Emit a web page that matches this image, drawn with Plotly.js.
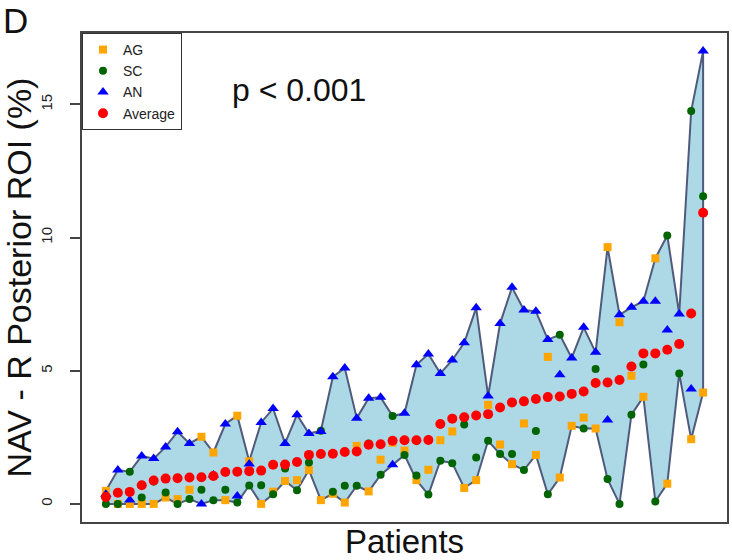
<!DOCTYPE html>
<html>
<head>
<meta charset="utf-8">
<script src="https://cdn.plot.ly/plotly-3.0.1.min.js"></script>
<style>
  html, body { margin: 0; padding: 0; background: #fff; }
  #chart { width: 732px; height: 560px; }
</style>
</head>
<body>
<div id="chart"></div>
<script>
// Patients sorted by average value (values in %)
const patients = Array.from({length: 51}, (_, i) => i + 1);

const AG = [0.49, 0.0, 0.0, 0.0, 0.0, 0.24, 0.18, 0.53, 2.52, 1.93,
            0.14, 3.31, 1.6, 0.0, 0.46, 0.86, 0.89, 1.27, 0.14, 0.38,
            0.05, 2.18, 0.47, 1.66, 2.3, 2.0, 0.89, 1.28, 2.39, 2.72,
            0.6, 0.89, 3.72, 2.23, 1.49, 3.02, 1.84, 5.52, 0.99, 2.93,
            3.24, 2.83, 9.64, 6.82, 4.81, 4.02, 9.22, 0.76, 6.0, 2.43,
            4.18];

const SC = [0.0, 0.0, 1.21, 0.24, 0.84, 0.43, 0.0, 0.18, 0.53, 0.14,
            0.53, 0.05, 0.69, 0.70, 0.36, 1.33, 0.51, 1.55, 2.75, 0.46,
            0.68, 0.68, 2.27, 1.09, 3.3, 1.84, 1.07, 0.35, 1.62, 1.53,
            2.98, 1.74, 2.37, 1.87, 1.87, 1.27, 2.74, 0.36, 6.35, 4.15,
            2.83, 5.06, 0.93, 0.0, 3.35, 5.23, 0.09, 10.08, 4.9, 14.75,
            11.55];

const AN = [0.36, 1.27, 0.15, 1.80, 1.70, 2.14, 2.71, 2.27, 0.0, 1.08,
            3.0, 0.30, 1.5, 3.06, 3.58, 2.27, 3.35, 2.64, 2.72, 4.77,
            5.10, 3.22, 3.97, 4.0, 1.47, 3.40, 5.22, 5.63, 4.90, 5.40,
            6.05, 7.36, 4.05, 6.77, 8.13, 7.28, 7.23, 6.17, 4.85, 5.48,
            6.63, 5.69, 3.15, 7.1, 7.38, 7.61, 7.61, 6.53, 7.13, 4.31,
            17.0];

const AVG = [0.26, 0.42, 0.45, 0.70, 0.88, 0.95, 0.96, 0.99, 1.0, 1.05,
             1.2, 1.21, 1.23, 1.25, 1.47, 1.48, 1.57, 1.84, 1.87, 1.88,
             1.95, 1.97, 2.22, 2.24, 2.37, 2.39, 2.39, 2.40, 3.0, 3.2,
             3.25, 3.32, 3.37, 3.62, 3.81, 3.85, 3.94, 4.01, 4.03, 4.13,
             4.22, 4.54, 4.56, 4.65, 5.16, 5.65, 5.65, 5.79, 6.0, 7.15,
             10.93];

const FONT = 'Liberation Sans, Arial, sans-serif';

// Band between highest and lowest of the three measurements
const upper = patients.map((p, i) => Math.max(AG[i], SC[i], AN[i]));
const lower = patients.map((p, i) => Math.min(AG[i], SC[i], AN[i]));
const bandX = patients.concat(patients.slice().reverse(), [patients[0]]);
const bandY = upper.concat(lower.slice().reverse(), [upper[0]]);

const band = {
  x: bandX, y: bandY,
  type: 'scatter', mode: 'lines',
  fill: 'toself', fillcolor: '#ADD8E6',
  line: { color: '#4f5a7c', width: 2 },
  hoverinfo: 'skip', showlegend: false
};

function pts(name, y, symbol, color, size) {
  return {
    x: patients, y: y, name: name,
    type: 'scatter', mode: 'markers',
    marker: { symbol: symbol, color: color, size: size, line: { width: 0 } }
  };
}

const traces = [
  band,
  pts('AG', AG, 'square', '#FFA500', 8),
  pts('SC', SC, 'circle', '#006400', 8),
  pts('AN', AN, 'triangle-up', '#0000FF', 10),
  pts('Average', AVG, 'circle', '#FF0000', 10)
];

const layout = {
  width: 732, height: 560,
  margin: { l: 82, r: 5, t: 33, b: 38 },
  paper_bgcolor: '#fff', plot_bgcolor: '#fff',
  font: { family: FONT, color: '#111' },
  showlegend: true,
  legend: {
    x: 0, y: 1, xanchor: 'left', yanchor: 'top',
    bgcolor: '#fff', bordercolor: '#333', borderwidth: 1,
    font: { size: 14, family: FONT, color: '#222' },
    itemwidth: 30, tracegroupgap: 0
  },
  xaxis: {
    range: [-1, 53], showgrid: false, zeroline: false,
    showticklabels: false, ticks: '',
    showline: true, mirror: true, linecolor: '#444', linewidth: 2,
    title: { text: 'Patients', font: { size: 33, family: FONT, color: '#111' }, standoff: 10 }
  },
  yaxis: {
    range: [-0.68, 17.68], showgrid: false, zeroline: false,
    tickvals: [0, 5, 10, 15], ticktext: ['0', '5', '10', '15'],
    ticks: 'outside', ticklen: 10, tickwidth: 1.5, tickcolor: '#444',
    ticklabelstandoff: 12,
    tickangle: -90, tickfont: { size: 15, family: FONT, color: '#222' },
    showline: true, mirror: true, linecolor: '#444', linewidth: 2,
    title: { text: 'NAV - R Posterior ROI (%)', font: { size: 34, family: FONT, color: '#111' }, standoff: 2 }
  },
  annotations: [
    { text: 'p < 0.001', xref: 'paper', yref: 'paper', x: 0.229, y: 0.883,
      xanchor: 'left', yanchor: 'middle', showarrow: false,
      font: { size: 32, family: FONT, color: '#111' } },
    { text: 'D', xref: 'paper', yref: 'paper', x: -0.125, y: 1.026,
      xanchor: 'left', yanchor: 'middle', showarrow: false,
      font: { size: 35, family: FONT, color: '#111' } }
  ]
};

Plotly.newPlot('chart', traces, layout, { displayModeBar: false, responsive: false });
</script>
</body>
</html>
